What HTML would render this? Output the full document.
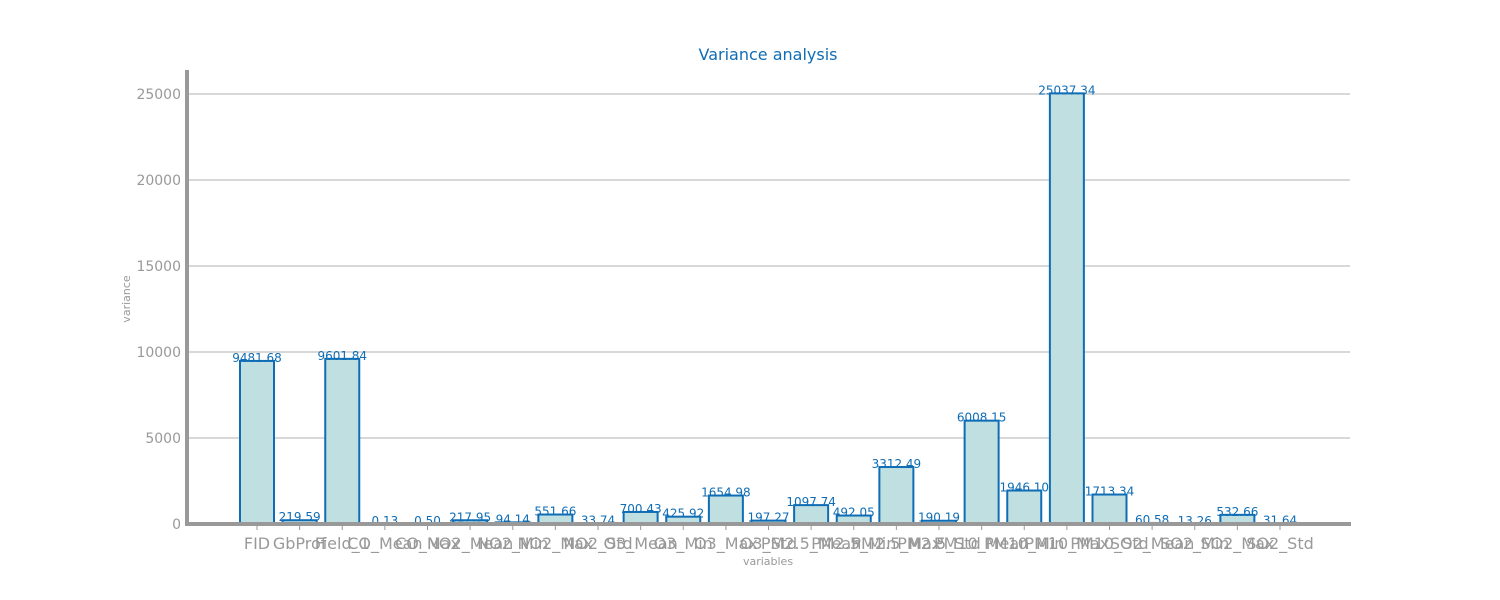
<!DOCTYPE html>
<html><head><meta charset="utf-8"><style>
body{margin:0;background:#fff;}
svg{display:block;font-family:"DejaVu Sans","Liberation Sans",sans-serif;}
</style></head><body>
<svg id="chart" width="1500" height="600">
<text x="768" y="60" text-anchor="middle" font-size="16" fill="#0f6db5">Variance analysis</text>
<g id="grid"></g><g id="bars"></g><g id="labels"></g><g id="ticks"></g>
<line x1="187" y1="70" x2="187" y2="526" stroke="#999" stroke-width="4"/>
<line x1="185" y1="524" x2="1351" y2="524" stroke="#999" stroke-width="4"/>
<text x="130" y="299" text-anchor="middle" font-size="11" fill="#999" transform="rotate(-90 130 299)">variance</text>
<text x="768" y="565" text-anchor="middle" font-size="11" fill="#999">variables</text>
</svg>
<script>
const categories=["FID","GbProf","Field_1","CO_Mean","CO_Max","NO2_Mean","NO2_Min","NO2_Max","NO2_Std","O3_Mean","O3_Min","O3_Max","O3_Std","PM2.5_Mean","PM2.5_Min","PM2.5_Max","PM2.5_Std","PM10_Mean","PM10_Min","PM10_Max","PM10_Std","SO2_Mean","SO2_Min","SO2_Max","SO2_Std"];
const values=[9481.68,219.59,9601.84,0.13,0.50,217.95,94.14,551.66,33.74,700.43,425.92,1654.98,197.27,1097.74,492.05,3312.49,190.19,6008.15,1946.10,25037.34,1713.34,60.58,13.26,532.66,31.64];
const yTicks=[0,5000,10000,15000,20000,25000];
const NS="http://www.w3.org/2000/svg";
const x0=257,step=(1280-257)/24,bw=34;
const xs=i=>x0+i*step;
const ys=v=>524-v*(430/25000);
function mk(t,a,p){const e=document.createElementNS(NS,t);for(const k in a)e.setAttribute(k,a[k]);document.getElementById(p).appendChild(e);return e;}
yTicks.forEach(t=>{
 if(t>0){const g=mk("line",{x1:189,x2:1350,y1:ys(t),y2:ys(t),stroke:"#ccc","stroke-width":1.5},"grid");
 
 }
 const l=mk("text",{x:181,y:ys(t)+5,"text-anchor":"end","font-size":14,fill:"#999"},"ticks");
 l.textContent=t;
 
 
});
categories.forEach((c,i)=>{
 const v=values[i],cx=xs(i),top=ys(v);
 const r=mk("rect",{x:cx-bw/2,y:top,width:bw,height:524-top,fill:"#bfdfe1",stroke:"#0f6db5","stroke-width":2},"bars");
 
 
 const vl=mk("text",{x:cx,y:top+1,"text-anchor":"middle","font-size":12,fill:"#0f6db5"},"labels");
 vl.textContent=v.toFixed(2);
 
 
 const tk=mk("line",{x1:cx,x2:cx,y1:526,y2:530,stroke:"#999","stroke-width":1},"ticks");
 
 
 const xl=mk("text",{x:cx,y:549,"text-anchor":"middle","font-size":16,fill:"#999"},"ticks");
 xl.textContent=c;
 
 
});
</script>
</body></html>
